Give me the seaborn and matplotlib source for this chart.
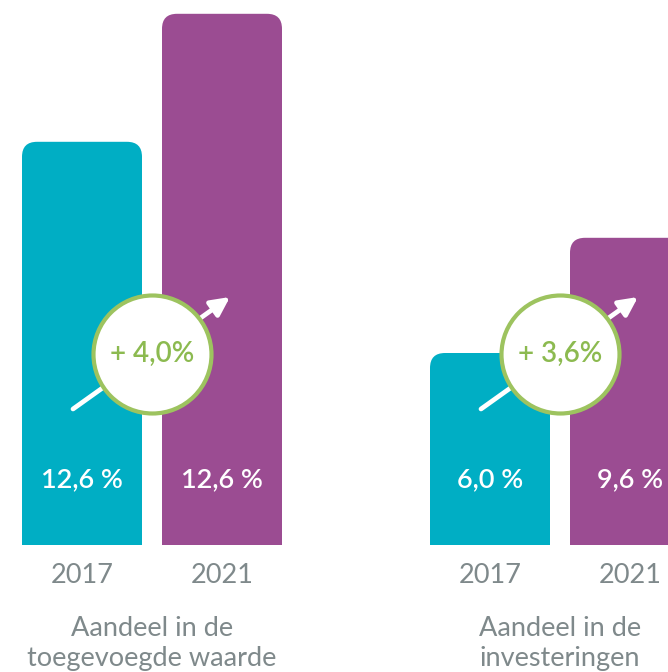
import matplotlib
matplotlib.use("Agg")
import matplotlib.pyplot as plt
import seaborn as sns
import pandas as pd
from matplotlib.patches import FancyBboxPatch, Rectangle

# ---- data ----
years = ["2017", "2021"]
group_labels = ["Aandeel in de\ntoegevoegde waarde", "Aandeel in de\ninvesteringen"]
values_toegevoegd = [12.6, 16.6]
values_investeringen = [6.0, 9.6]
bar_texts_toegevoegd = ["12,6 %", "12,6 %"]
bar_texts_investeringen = ["6,0 %", "9,6 %"]
change_texts = ["+ 4,0%", "+ 3,6%"]

TEAL = "#00AEC4"
PURPLE = "#9B4C92"
RING = "#9DC35F"
GREEN_TXT = "#8CBA50"
GREY = "#7F898B"

sns.set_theme(style="white")
plt.rcParams["font.family"] = ["Lato", "DejaVu Sans"]

W, H = 668, 672
fig = plt.figure(figsize=(W / 100, H / 100), dpi=100)

px_per_unit_x = 140.0
px_per_unit_y = 32.0
base_px = 545
ax_w_px = 304
ax_h_px = base_px

def make_axes(left_px):
    return fig.add_axes([left_px / W, (H - base_px) / H, ax_w_px / W, ax_h_px / H])

groups = [
    (values_toegevoegd, bar_texts_toegevoegd, change_texts[0], group_labels[0], 0),
    (values_investeringen, bar_texts_investeringen, change_texts[1], group_labels[1], 408),
]

for vals, texts, change, glabel, left_px in groups:
    ax = make_axes(left_px)
    df = pd.DataFrame({"jaar": years, "waarde": vals})
    sns.barplot(data=df, x="jaar", y="waarde", hue="jaar", order=years,
                palette=[TEAL, PURPLE], width=120 / 140, saturation=1,
                legend=False, ax=ax)
    half = ax_w_px / 2 / px_per_unit_x
    ax.set_xlim(0.5 - half, 0.5 + half)
    ax.set_ylim(0, ax_h_px / px_per_unit_y)

    # rounded top corners
    r_x = 15 / px_per_unit_x
    aspect = px_per_unit_x / px_per_unit_y
    for p in list(ax.patches):
        x, y = p.get_x(), p.get_y()
        w, h = p.get_width(), p.get_height()
        fc = p.get_facecolor()
        p.set_visible(False)
        ax.add_patch(FancyBboxPatch((x, y), w, h,
                                    boxstyle=f"round,pad=0,rounding_size={r_x}",
                                    mutation_aspect=aspect, fc=fc, ec="none", zorder=2))
        ax.add_patch(Rectangle((x, y), w, h / 2, fc=fc, ec="none", zorder=2))

    for i, t in enumerate(texts):
        ax.text(i, (base_px - 480) / px_per_unit_y, t, color="white", ha="center",
                va="center", fontsize=19.5, fontweight="semibold", zorder=6)

    # arrow + circle
    x0, y0 = (73 - 82) / px_per_unit_x, (base_px - 409) / px_per_unit_y
    x1, y1 = (230 - 82) / px_per_unit_x, (base_px - 297) / px_per_unit_y
    ax.annotate("", xy=(x1, y1), xytext=(x0, y0),
                arrowprops=dict(arrowstyle="-|>", color="white", lw=3.4,
                                mutation_scale=28, shrinkA=0, shrinkB=0),
                zorder=3)
    cy = (base_px - 354) / px_per_unit_y
    ax.scatter([0.5], [cy], s=(118 * 0.72) ** 2, c="white", edgecolors=RING,
               linewidths=3.0, zorder=4, clip_on=False)
    ax.text(0.5, cy, change, color=GREEN_TXT, ha="center", va="center",
            fontsize=20, fontweight="semibold", zorder=5)

    ax.set_xlabel(glabel, color=GREY, fontsize=19.5, labelpad=20, linespacing=1.26)
    ax.set_ylabel("")
    ax.set_yticks([])
    ax.tick_params(axis="x", length=0, pad=13, labelsize=19.5, labelcolor=GREY)
    for s in ax.spines.values():
        s.set_visible(False)
    ax.patch.set_alpha(0)

fig.savefig("out.png", dpi=100, facecolor="white")
